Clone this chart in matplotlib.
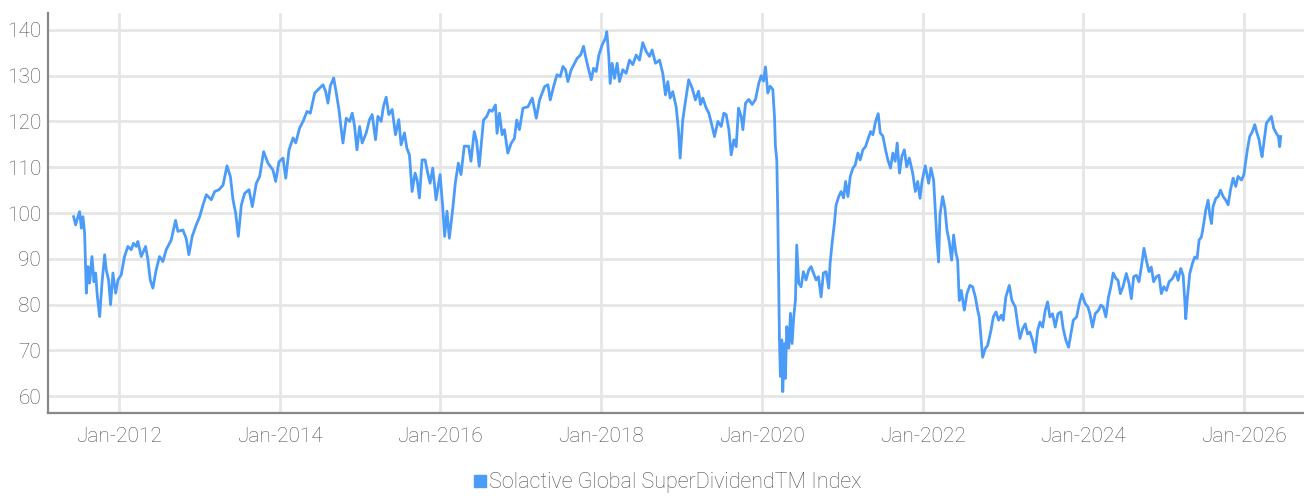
import numpy as np
import pandas as pd
import matplotlib
matplotlib.use("Agg")
import matplotlib.pyplot as plt
from matplotlib.lines import Line2D

plt.rcParams["font.family"] = ["Roboto", "DejaVu Sans"]
plt.rcParams["font.weight"] = "light"

# index level, dates as decimal years
years = [
    2011.436, 2011.461, 2011.490, 2011.511, 2011.532, 2011.552, 2011.573, 2011.594,
    2011.614, 2011.635, 2011.664, 2011.689, 2011.710, 2011.731, 2011.760, 2011.789,
    2011.822, 2011.842, 2011.871, 2011.896, 2011.925, 2011.959, 2011.988, 2012.029,
    2012.070, 2012.112, 2012.153, 2012.182, 2012.216, 2012.236, 2012.278, 2012.332,
    2012.361, 2012.390, 2012.423, 2012.464, 2012.506, 2012.547, 2012.589, 2012.651,
    2012.705, 2012.734, 2012.796, 2012.837, 2012.871, 2012.912, 2012.962, 2013.003,
    2013.045, 2013.086, 2013.148, 2013.190, 2013.244, 2013.294, 2013.343, 2013.385,
    2013.418, 2013.451, 2013.484, 2013.522, 2013.563, 2013.617, 2013.658, 2013.708,
    2013.750, 2013.799, 2013.853, 2013.915, 2013.949, 2013.990,
    2014.041, 2014.075, 2014.116, 2014.166, 2014.199, 2014.248, 2014.290, 2014.340,
    2014.381, 2014.435, 2014.497, 2014.538, 2014.571, 2014.600, 2014.629, 2014.671,
    2014.704, 2014.737, 2014.766, 2014.787, 2014.828, 2014.870, 2014.903, 2014.932,
    2014.961, 2014.994, 2015.027, 2015.077, 2015.118, 2015.151, 2015.193, 2015.222,
    2015.263, 2015.292, 2015.325, 2015.358, 2015.400, 2015.441, 2015.482, 2015.511,
    2015.553, 2015.582, 2015.615, 2015.648, 2015.685, 2015.710, 2015.739, 2015.772,
    2015.810, 2015.843, 2015.872, 2015.905, 2015.946, 2015.996, 2016.029, 2016.054,
    2016.083, 2016.112, 2016.153, 2016.186, 2016.224, 2016.257, 2016.298, 2016.352,
    2016.381, 2016.422, 2016.451, 2016.484,
    2016.537, 2016.578, 2016.611, 2016.644, 2016.686, 2016.706, 2016.735, 2016.769,
    2016.798, 2016.839, 2016.881, 2016.922, 2016.951, 2016.984, 2017.026, 2017.088,
    2017.142, 2017.192, 2017.233, 2017.295, 2017.337, 2017.366, 2017.407, 2017.449,
    2017.490, 2017.523, 2017.556, 2017.585, 2017.627, 2017.668, 2017.701, 2017.743,
    2017.780, 2017.805, 2017.834, 2017.876, 2017.905, 2017.938, 2017.971, 2018.012,
    2018.054, 2018.070, 2018.095, 2018.112, 2018.137, 2018.166, 2018.199, 2018.228,
    2018.269, 2018.311, 2018.352, 2018.394, 2018.435, 2018.477, 2018.518, 2018.560,
    2018.601, 2018.634, 2018.676, 2018.726, 2018.767, 2018.800, 2018.829, 2018.858,
    2018.891, 2018.933, 2018.962, 2018.983, 2019.016, 2019.049, 2019.090, 2019.132,
    2019.173, 2019.212,
    2019.237, 2019.266, 2019.308, 2019.341, 2019.382, 2019.411, 2019.453, 2019.494,
    2019.527, 2019.556, 2019.590, 2019.619, 2019.652, 2019.681, 2019.710, 2019.743,
    2019.764, 2019.797, 2019.838, 2019.880, 2019.921, 2019.963, 2019.992, 2020.021,
    2020.046, 2020.075, 2020.104, 2020.137, 2020.158, 2020.170, 2020.187, 2020.199,
    2020.211, 2020.220, 2020.232, 2020.249, 2020.261, 2020.282, 2020.294, 2020.311,
    2020.336, 2020.357, 2020.377, 2020.398, 2020.419, 2020.435, 2020.460, 2020.489,
    2020.518, 2020.551, 2020.585, 2020.614, 2020.643, 2020.676, 2020.705, 2020.738,
    2020.767, 2020.800, 2020.833, 2020.850, 2020.875, 2020.904, 2020.925, 2020.958,
    2020.987, 2021.016, 2021.041, 2021.070, 2021.099, 2021.132, 2021.161, 2021.194,
    2021.223, 2021.256, 2021.289, 2021.318, 2021.352, 2021.381, 2021.414, 2021.447,
    2021.472, 2021.505, 2021.538, 2021.567, 2021.600, 2021.629, 2021.658, 2021.683,
    2021.712, 2021.741,
    2021.772, 2021.801, 2021.834, 2021.876, 2021.909, 2021.938, 2021.967, 2021.992,
    2022.033, 2022.075, 2022.104, 2022.137, 2022.158, 2022.178, 2022.199, 2022.216,
    2022.249, 2022.278, 2022.303, 2022.332, 2022.361, 2022.386, 2022.415, 2022.436,
    2022.456, 2022.481, 2022.519, 2022.552, 2022.589, 2022.622, 2022.656, 2022.685,
    2022.705, 2022.726, 2022.747, 2022.780, 2022.809, 2022.851, 2022.880, 2022.913,
    2022.946, 2022.979, 2023.004, 2023.037, 2023.079, 2023.112, 2023.154, 2023.183,
    2023.212, 2023.245, 2023.278, 2023.307, 2023.336, 2023.369, 2023.402, 2023.432,
    2023.461, 2023.494, 2023.527, 2023.556, 2023.585, 2023.618, 2023.651, 2023.685,
    2023.722, 2023.751, 2023.784, 2023.817, 2023.846, 2023.876, 2023.917, 2023.950,
    2023.983, 2024.025, 2024.058, 2024.083, 2024.116, 2024.149, 2024.191, 2024.220,
    2024.249, 2024.282, 2024.315, 2024.344, 2024.373, 2024.407,
    2024.433, 2024.462, 2024.495, 2024.536, 2024.570, 2024.599, 2024.628, 2024.661,
    2024.694, 2024.723, 2024.756, 2024.785, 2024.818, 2024.847, 2024.876, 2024.910,
    2024.943, 2024.972, 2025.001, 2025.034, 2025.067, 2025.109, 2025.150, 2025.179,
    2025.212, 2025.241, 2025.262, 2025.274, 2025.295, 2025.324, 2025.357, 2025.386,
    2025.415, 2025.440, 2025.469, 2025.498, 2025.523, 2025.552, 2025.573, 2025.594,
    2025.614, 2025.648, 2025.677, 2025.706, 2025.739, 2025.772, 2025.801, 2025.830,
    2025.863, 2025.896, 2025.925, 2025.967, 2025.996, 2026.017, 2026.041, 2026.070,
    2026.104, 2026.133, 2026.162, 2026.187, 2026.207, 2026.224, 2026.249, 2026.278,
    2026.311, 2026.340, 2026.369, 2026.402, 2026.427, 2026.444, 2026.456,
]

index_values = [
    99.2, 97.4, 99.2, 100.3, 96.7, 99.2, 95.6, 82.5,
    88.3, 84.7, 90.5, 85.0, 86.9, 81.8, 77.4, 84.7,
    90.9, 87.6, 85.4, 80.0, 86.9, 82.5, 85.4, 86.5,
    90.5, 92.7, 92.0, 93.4, 92.7, 93.8, 90.5, 92.7,
    89.8, 85.4, 83.6, 87.6, 90.5, 89.4, 92.0, 94.1,
    98.4, 96.0, 96.3, 94.5, 90.9, 94.9, 97.4, 99.2,
    101.8, 104.0, 102.9, 104.7, 105.1, 106.1, 110.3, 108.0,
    102.9, 100.0, 94.9, 101.8, 104.3, 105.1, 101.4, 106.5,
    108.0, 113.4, 110.9, 109.4, 106.9, 111.2,
    112.0, 107.6, 113.8, 116.4, 115.3, 118.6, 120.0, 122.2,
    121.8, 126.2, 127.3, 128.0, 126.6, 124.0, 127.7, 129.5,
    126.2, 122.6, 118.2, 115.3, 120.7, 120.0, 121.8, 118.9,
    113.8, 118.9, 115.3, 117.5, 120.4, 121.5, 116.0, 121.1,
    120.0, 123.3, 125.3, 121.5, 122.6, 117.1, 120.4, 114.9,
    117.5, 114.2, 112.7, 104.7, 108.7, 107.3, 103.3, 111.6,
    111.6, 108.7, 106.5, 109.8, 102.9, 108.4, 101.5, 94.9,
    100.4, 94.5, 100.7, 106.5, 110.9, 108.4, 114.6, 114.6,
    111.3, 117.8, 115.7, 110.2,
    120.3, 121.1, 122.5, 122.2, 123.6, 117.4, 121.8, 117.1,
    118.2, 113.1, 115.2, 116.3, 120.3, 118.2, 122.9, 123.2,
    125.1, 120.7, 124.7, 127.6, 128.0, 124.7, 127.6, 130.2,
    129.8, 132.0, 131.3, 128.7, 131.3, 132.7, 133.8, 134.5,
    136.4, 134.2, 132.0, 129.1, 131.6, 130.9, 134.5, 136.7,
    138.2, 139.6, 134.2, 128.3, 132.7, 129.4, 132.7, 128.7,
    131.3, 130.5, 133.4, 132.4, 134.5, 133.4, 137.2, 135.3,
    134.2, 135.6, 132.7, 133.4, 130.5, 125.8, 128.7, 125.1,
    126.5, 123.2, 118.2, 112.0, 120.3, 124.3, 129.1, 127.3,
    124.7, 126.6,
    123.7, 125.1, 122.9, 121.8, 118.9, 116.7, 120.0, 118.9,
    121.8, 121.5, 118.2, 112.7, 116.0, 114.5, 122.9, 121.1,
    118.2, 124.0, 124.8, 123.7, 124.8, 128.4, 130.0, 128.8,
    131.9, 126.2, 127.7, 127.0, 121.1, 114.5, 111.6, 100.0,
    84.7, 72.3, 64.3, 72.3, 61.0, 71.5, 63.9, 75.2,
    70.5, 78.1, 71.5, 77.4, 81.0, 93.0, 84.7, 83.9,
    87.2, 85.4, 87.6, 88.3, 86.9, 85.4, 86.1, 81.7,
    86.9, 87.2, 83.6, 89.0, 93.4, 97.8, 101.8, 103.6,
    104.7, 103.3, 106.9, 103.6, 108.0, 109.8, 110.5, 113.1,
    111.6, 113.8, 114.5, 116.0, 117.8, 117.1, 120.0, 121.7,
    117.5, 116.8, 113.8, 111.6, 109.8, 113.1, 111.3, 115.3,
    108.7, 112.4,
    113.8, 110.1, 112.0, 108.7, 104.7, 106.9, 103.2, 106.9,
    110.3, 106.5, 109.8, 107.2, 100.7, 94.1, 89.3, 99.6,
    103.6, 101.0, 96.3, 93.7, 89.7, 95.2, 91.2, 89.7,
    80.9, 83.1, 78.8, 82.4, 84.2, 83.9, 81.7, 78.8,
    77.3, 72.9, 68.5, 70.4, 71.1, 74.4, 77.3, 78.4,
    76.6, 77.7, 76.6, 81.7, 84.2, 80.9, 79.5, 75.8,
    72.6, 74.7, 75.8, 73.6, 74.0, 72.2, 69.6, 74.4,
    76.2, 75.1, 78.8, 80.6, 77.3, 78.0, 75.1, 78.0,
    78.4, 74.7, 72.2, 70.7, 73.6, 76.6, 77.3, 80.2,
    82.3, 80.2, 79.5, 78.0, 75.1, 78.0, 78.8, 79.9,
    79.5, 77.3, 81.7, 83.9, 86.9, 85.7,
    85.3, 82.4, 83.9, 86.8, 84.6, 81.3, 86.1, 86.4,
    85.0, 88.2, 92.3, 89.7, 87.2, 88.2, 85.0, 86.1,
    86.4, 82.4, 83.9, 83.1, 85.0, 85.7, 87.2, 85.3,
    87.9, 86.4, 80.9, 76.9, 81.7, 86.8, 89.0, 90.4,
    90.1, 94.1, 94.8, 97.7, 100.7, 102.8, 99.6, 97.7,
    101.4, 103.2, 103.6, 105.0, 103.6, 102.8, 101.8, 105.0,
    107.6, 105.8, 108.0, 107.2, 108.3, 110.9, 113.8, 116.7,
    117.8, 119.3, 117.4, 116.0, 113.8, 112.3, 115.6, 119.6,
    120.4, 121.1, 118.5, 117.4, 116.7, 114.5, 116.7,
]

x_tick_years = [2012, 2014, 2016, 2018, 2020, 2022, 2024, 2026]
x_tick_labels = ["Jan-2012", "Jan-2014", "Jan-2016", "Jan-2018",
                 "Jan-2020", "Jan-2022", "Jan-2024", "Jan-2026"]
y_ticks = [60, 70, 80, 90, 100, 110, 120, 130, 140]
series_name = "Solactive Global SuperDividendTM Index"

LINE_COLOR = "#4b9bf8"
TEXT_COLOR = "#505050"
GRID_COLOR = "#e6e6e6"
SPINE_COLOR = "#888888"


def to_date(y):
    base = pd.Timestamp(int(y), 1, 1)
    return base + pd.Timedelta(days=(y - int(y)) * 365.25)


dates = [to_date(y) for y in years]

fig = plt.figure(figsize=(13.04, 4.96), dpi=100)
ax = fig.add_axes([0.0368, 0.167, 0.9632, 0.807])

ax.plot(dates, index_values, color=LINE_COLOR, lw=2.0, solid_joinstyle="round")

ax.set_xlim(to_date(2011.117), to_date(2026.746))
ax.set_ylim(56.3, 143.7)

ax.set_xticks([pd.Timestamp(y, 1, 1) for y in x_tick_years])
ax.set_xticklabels(x_tick_labels)
ax.set_yticks(y_ticks)
ax.set_yticklabels([str(v) for v in y_ticks])

ax.grid(True, color=GRID_COLOR, lw=2.0)
ax.set_axisbelow(True)

for side in ["top", "right"]:
    ax.spines[side].set_visible(False)
for side in ["left", "bottom"]:
    ax.spines[side].set_color(SPINE_COLOR)
    ax.spines[side].set_linewidth(1.6)

ax.tick_params(axis="both", length=0, labelsize=15, colors=TEXT_COLOR)
ax.tick_params(axis="y", pad=5)
ax.tick_params(axis="x", pad=10)

handle = Line2D([], [], color=LINE_COLOR, marker="s", linestyle="none", markersize=8)
fig.legend([handle], [series_name], loc="center", bbox_to_anchor=(0.511, 0.027),
           frameon=False, fontsize=15.5, labelcolor=TEXT_COLOR,
           handletextpad=0.05, handlelength=0.8)

fig.savefig("out.png", dpi=100)
